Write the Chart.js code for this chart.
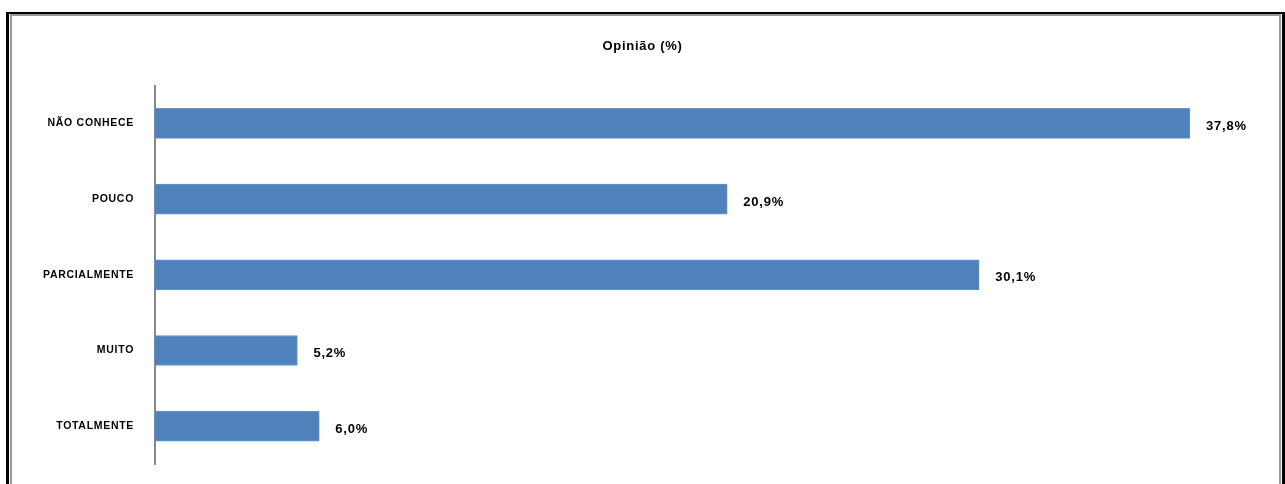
<!DOCTYPE html>
<html lang="pt">
<head>
<meta charset="utf-8">
<title>Opinião (%)</title>
<script src="https://cdn.jsdelivr.net/npm/chart.js@4/dist/chart.umd.min.js"></script>
<style>
    body {
        margin: 0;
        background: #fff;
        overflow: hidden;
    }
    .frame-outer {
        position: absolute;
        left: 6px;
        top: 12px;
        width: 1279px;
        height: 520px;
        box-sizing: border-box;
        border: 3px solid #000;
        border-top-width: 2px;
        border-bottom: none;
    }
    .frame-inner {
        position: absolute;
        left: 10px;
        top: 14px;
        width: 1271px;
        height: 520px;
        box-sizing: border-box;
        border: 2px solid #999;
        border-bottom: none;
    }
    #chart {
        position: absolute;
        left: 0;
        top: 0;
    }
</style>
</head>
<body>
<div class="frame-outer"></div>
<div class="frame-inner"></div>
<canvas id="chart" width="1285" height="484"></canvas>
<script>
const categories = ['NÃO CONHECE', 'POUCO', 'PARCIALMENTE', 'MUITO', 'TOTALMENTE']
const opiniao = [37.8, 20.9, 30.1, 5.2, 6.0]

const fontFamily = '"Liberation Sans", Arial, Helvetica, sans-serif'

!(() => {
    // draw "37,8%" style labels at the end of each bar
    const valueLabels = {
        id: 'valueLabels',
        afterDatasetsDraw(chart) {
            const ctx = chart.ctx
            const meta = chart.getDatasetMeta(0)
            ctx.save()
            ctx.font = `bold 13px ${fontFamily}`
            ctx.letterSpacing = '0.8px'
            ctx.fillStyle = '#000'
            ctx.textAlign = 'left'
            ctx.textBaseline = 'middle'
            meta.data.forEach((bar, i) => {
                const text = opiniao[i].toFixed(1).replace('.', ',') + '%'
                ctx.fillText(text, bar.x + 16, bar.y + 3)
            })
            ctx.restore()
        },
    }

    // the original text is set a little wider than Arial
    const spacing = {
        id: 'spacing',
        beforeDraw(chart) {
            chart.ctx.letterSpacing = '0.7px'
        },
    }

    const config = {
        type: 'bar',
        data: {
            labels: categories,
            datasets: [
                {
                    data: opiniao,
                    backgroundColor: '#4F81BD',
                    borderColor: '#6a96ca',
                    borderWidth: 1,
                    barThickness: 30,
                },
            ],
        },
        options: {
            indexAxis: 'y',
            responsive: false,
            animation: false,
            layout: {
                padding: { left: 0, right: 0, top: 0, bottom: 20 },
            },
            plugins: {
                legend: { display: false },
                tooltip: { enabled: false },
                title: {
                    display: true,
                    text: 'Opinião (%)',
                    color: '#000',
                    font: { family: fontFamily, size: 13, weight: 'bold' },
                    padding: { top: 39, bottom: 31 },
                },
            },
            scales: {
                x: {
                    display: false,
                    min: 0,
                    max: 41.27,
                },
                y: {
                    grid: { display: false, drawTicks: false },
                    border: { display: true, color: '#888', width: 2 },
                    ticks: {
                        color: '#000',
                        padding: 21,
                        font: { family: fontFamily, size: 10.5, weight: 'bold' },
                    },
                    afterFit: scale => {
                        scale.width = 155
                        // tick padding should not push the plot area in
                        scale.paddingTop = 0
                        scale.paddingBottom = 0
                    },
                },
            },
        },
        plugins: [spacing, valueLabels],
    }

    new Chart(document.getElementById('chart'), config)
})()
</script>
</body>
</html>
